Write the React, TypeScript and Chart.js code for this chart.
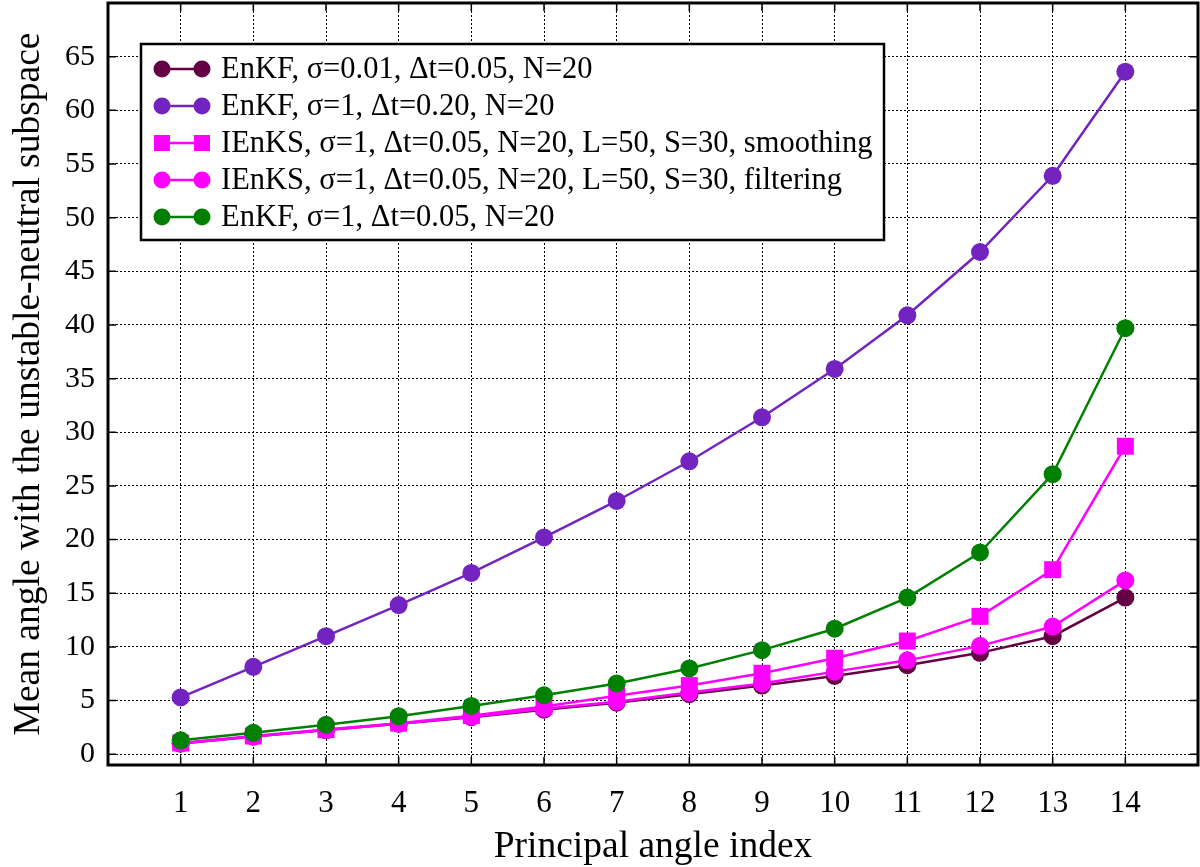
import { useEffect, useRef } from 'react';
import { Chart, registerables, Plugin } from 'chart.js';

Chart.register(...registerables);

// principal angle index
const angleIndex = [1, 2, 3, 4, 5, 6, 7, 8, 9, 10, 11, 12, 13, 14];

const enkfSmallNoise = [1.0, 1.65, 2.25, 2.85, 3.45, 4.15, 4.8, 5.6, 6.4, 7.3, 8.3, 9.45, 11.0, 14.6];
const enkfLongStep = [5.3, 8.15, 11.0, 13.9, 16.9, 20.2, 23.6, 27.3, 31.4, 35.9, 40.9, 46.8, 53.9, 63.6];
const ienksSmoothing = [1.05, 1.7, 2.3, 2.9, 3.6, 4.45, 5.45, 6.4, 7.55, 8.95, 10.55, 12.85, 17.2, 28.7];
const ienksFiltering = [1.0, 1.65, 2.25, 2.85, 3.5, 4.25, 4.9, 5.75, 6.6, 7.7, 8.75, 10.1, 11.9, 16.2];
const enkfBase = [1.3, 2.0, 2.75, 3.55, 4.5, 5.5, 6.6, 8.0, 9.7, 11.7, 14.6, 18.8, 26.1, 39.7];

const seriesLabels = [
    'EnKF, σ=0.01, Δt=0.05, N=20',
    'EnKF, σ=1, Δt=0.20, N=20',
    'IEnKS, σ=1, Δt=0.05, N=20, L=50, S=30, smoothing',
    'IEnKS, σ=1, Δt=0.05, N=20, L=50, S=30, filtering',
    'EnKF, σ=1, Δt=0.05, N=20',
];

const yTickValues = [0, 5, 10, 15, 20, 25, 30, 35, 40, 45, 50, 55, 60, 65];

const FONT = '"Liberation Serif", "Times New Roman", serif';

// рамка графика и засечки внутрь, как в gnuplot
const framePlugin: Plugin<'line'> = {
    id: 'frame',
    afterDatasetsDraw(chart) {
        const { ctx, chartArea: a, scales } = chart;
        ctx.save();
        ctx.strokeStyle = '#000';
        ctx.lineWidth = 1.5;
        const tl = 8;
        scales.y.ticks.forEach((t) => {
            const y = scales.y.getPixelForValue(t.value);
            ctx.beginPath();
            ctx.moveTo(a.left, y);
            ctx.lineTo(a.left + tl, y);
            ctx.moveTo(a.right, y);
            ctx.lineTo(a.right - tl, y);
            ctx.stroke();
        });
        scales.x.ticks.forEach((t) => {
            const x = scales.x.getPixelForValue(t.value);
            ctx.beginPath();
            ctx.moveTo(x, a.bottom);
            ctx.lineTo(x, a.bottom - tl);
            ctx.moveTo(x, a.top);
            ctx.lineTo(x, a.top + tl);
            ctx.stroke();
        });
        ctx.lineWidth = 3;
        ctx.strokeRect(a.left, a.top, a.right - a.left, a.bottom - a.top);
        ctx.restore();
    },
};

// легенда внутри области графика
const boxLegendPlugin: Plugin<'line'> = {
    id: 'boxLegend',
    afterDraw(chart) {
        const { ctx, chartArea: a } = chart;
        const left = a.left + 33;
        const top = a.top + 41;
        const w = 743;
        const h = 196;
        ctx.save();
        ctx.fillStyle = '#fff';
        ctx.fillRect(left, top, w, h);
        ctx.strokeStyle = '#000';
        ctx.lineWidth = 2.5;
        ctx.strokeRect(left, top, w, h);
        chart.data.datasets.forEach((ds: any, i) => {
            const y = top + 25 + i * 37;
            const x1 = left + 21;
            const x2 = left + 61;
            ctx.strokeStyle = ds.borderColor;
            ctx.fillStyle = ds.borderColor;
            ctx.lineWidth = 2.5;
            ctx.beginPath();
            ctx.moveTo(x1, y);
            ctx.lineTo(x2, y);
            ctx.stroke();
            [x1, x2].forEach((x) => {
                ctx.beginPath();
                if (ds.pointStyle === 'rect') {
                    ctx.rect(x - 8, y - 8, 16, 16);
                } else {
                    ctx.arc(x, y, 8.5, 0, Math.PI * 2);
                }
                ctx.fill();
            });
            ctx.fillStyle = '#000';
            ctx.font = `30.5px ${FONT}`;
            ctx.textBaseline = 'middle';
            ctx.textAlign = 'left';
            ctx.fillText(ds.label, left + 80, y + 1);
        });
        ctx.restore();
    },
};

const makeSeries = (label: string, values: number[], color: string, style: string, order: number) => ({
    label,
    data: values.map((v, i) => ({ x: angleIndex[i], y: v })),
    borderColor: color,
    backgroundColor: color,
    borderWidth: 2.5,
    pointStyle: style,
    pointRadius: style === 'rect' ? 12 : 9,
    pointBorderWidth: 0,
    pointBackgroundColor: color,
    tension: 0,
    order,
});

export default function App() {
    const canvasRef = useRef<HTMLCanvasElement | null>(null);

    useEffect(() => {
        document.body.style.margin = '0';
        if (!canvasRef.current) return;
        const chart = new Chart(canvasRef.current, {
            type: 'line',
            data: {
                datasets: [
                    makeSeries(seriesLabels[0], enkfSmallNoise, '#660044', 'circle', 4),
                    makeSeries(seriesLabels[1], enkfLongStep, '#7324c0', 'circle', 3),
                    makeSeries(seriesLabels[2], ienksSmoothing, '#ff00ff', 'rect', 2),
                    makeSeries(seriesLabels[3], ienksFiltering, '#ff00ff', 'circle', 1),
                    makeSeries(seriesLabels[4], enkfBase, '#008000', 'circle', 0),
                ] as any,
            },
            options: {
                responsive: false,
                animation: false,
                layout: { autoPadding: false, padding: { top: 3, right: 2, left: 0, bottom: 0 } },
                plugins: {
                    legend: { display: false },
                    tooltip: { enabled: false },
                },
                scales: {
                    x: {
                        type: 'linear',
                        min: 0,
                        max: 15,
                        afterBuildTicks: (s) => {
                            s.ticks = angleIndex.map((v) => ({ value: v }));
                        },
                        afterFit: (s) => {
                            s.height = 102;
                            s.paddingLeft = 0;
                            s.paddingRight = 0;
                        },
                        grid: { color: '#000', lineWidth: 1, drawTicks: false },
                        border: { display: false, dash: [2, 2] },
                        ticks: {
                            color: '#000',
                            font: { family: FONT, size: 31 },
                            padding: 20,
                            maxRotation: 0,
                            autoSkip: false,
                        },
                        title: {
                            display: true,
                            text: 'Principal angle index',
                            color: '#000',
                            font: { family: FONT, size: 37.5, lineHeight: 1 },
                            padding: { top: 0, bottom: 1 },
                        },
                    },
                    y: {
                        type: 'linear',
                        min: -1,
                        max: 70,
                        afterBuildTicks: (s) => {
                            s.ticks = yTickValues.map((v) => ({ value: v }));
                        },
                        afterFit: (s) => {
                            s.width = 108;
                            s.paddingTop = 0;
                            s.paddingBottom = 0;
                        },
                        grid: { color: '#000', lineWidth: 1, drawTicks: false },
                        border: { display: false, dash: [2, 2] },
                        ticks: {
                            color: '#000',
                            font: { family: FONT, size: 30 },
                            padding: 13,
                            autoSkip: false,
                        },
                        title: {
                            display: true,
                            text: 'Mean angle with the unstable-neutral subspace',
                            color: '#000',
                            font: { family: FONT, size: 37.5, lineHeight: 1 },
                            padding: { top: 10, bottom: 0 },
                        },
                    },
                },
            },
            plugins: [framePlugin, boxLegendPlugin],
        });
        return () => {
            chart.destroy();
        };
    }, []);

    return (
        <div style={{ width: 1200, height: 867 }}>
            <canvas ref={canvasRef} width={1200} height={867} style={{ display: 'block' }}></canvas>
        </div>
    );
}
